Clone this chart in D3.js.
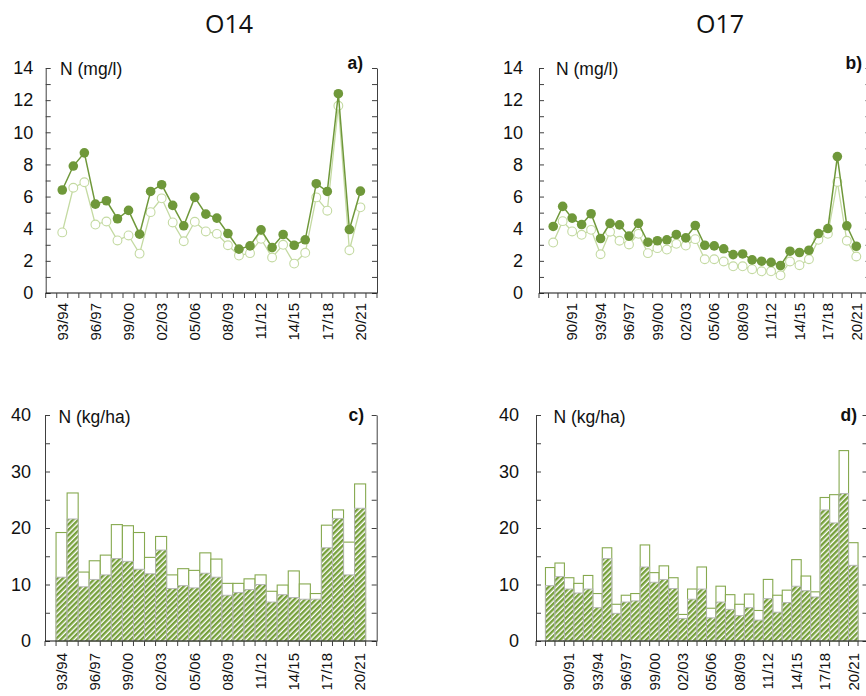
<!DOCTYPE html>
<html><head><meta charset="utf-8">
<script src="https://cdn.jsdelivr.net/npm/d3@7"></script>
<style>body{margin:0;background:#fff}</style>
</head><body>
<svg id="chart" width="866" height="696"></svg>
<script>
// ---------- categories ----------
const o14Years = ["93/94","94/95","95/96","96/97","97/98","98/99","99/00","00/01","01/02","02/03","03/04","04/05","05/06","06/07","07/08","08/09","09/10","10/11","11/12","12/13","13/14","14/15","15/16","16/17","17/18","18/19","19/20","20/21"];
const o14Bands = ["92/93", ...o14Years, "21/22"];
const o17Years = ["88/89","89/90","90/91","91/92","92/93", ...o14Years];
const o17Bands = ["87/88", ...o17Years, "21/22"];
const o14TickLabels = ["93/94","96/97","99/00","02/03","05/06","08/09","11/12","14/15","17/18","20/21"];
const o17TickLabels = ["90/91","93/94","96/97","99/00","02/03","05/06","08/09","11/12","14/15","17/18","20/21"];
const concTicks = [0,2,4,6,8,10,12,14];
const concMinor = [1,3,5,7,9,11,13];
const loadTicks = [0,10,20,30,40];
const loadMinor = [5,15,25,35];

// ---------- series: concentration N (mg/l) ----------
const o14ConcFilled = [6.41,7.90,8.72,5.53,5.74,4.62,5.14,3.66,6.32,6.74,5.45,4.18,5.95,4.91,4.66,3.70,2.73,2.93,3.93,2.83,3.64,2.97,3.31,6.80,6.32,12.40,3.95,6.34];
const o14ConcOpen   = [3.77,6.55,6.89,4.26,4.45,3.27,3.58,2.45,5.03,5.89,4.39,3.22,4.43,3.83,3.68,2.97,2.33,2.48,3.37,2.21,3.00,1.83,2.50,5.95,5.12,11.65,2.66,5.33];
const o17ConcFilled = [4.14,5.39,4.66,4.26,4.93,3.39,4.33,4.24,3.54,4.33,3.16,3.25,3.31,3.64,3.43,4.20,2.97,2.93,2.75,2.39,2.43,2.06,1.98,1.91,1.71,2.60,2.52,2.66,3.70,4.01,8.49,4.18,2.91];
const o17ConcOpen   = [3.14,4.47,3.83,3.62,3.93,2.41,3.81,3.25,3.02,3.68,2.48,2.79,2.70,3.06,2.95,3.35,2.10,2.10,1.96,1.66,1.66,1.48,1.35,1.35,1.10,1.96,1.73,2.10,3.31,3.68,6.91,3.25,2.27];

// ---------- series: load N (kg/ha) ----------
const o14LoadTotal   = [19.2,26.2,12.2,14.2,15.2,20.6,20.4,19.2,14.8,18.5,11.7,12.8,12.5,15.6,14.5,10.2,10.2,11.0,11.7,8.8,9.9,12.4,10.1,8.4,20.5,23.2,17.5,27.8];
const o14LoadHatched = [11.3,21.6,9.6,10.9,11.7,14.6,14.1,12.7,11.9,16.1,9.3,9.8,9.4,12.0,11.3,8.1,8.6,9.1,10.0,6.9,8.2,7.7,7.4,7.4,16.5,21.7,11.7,23.5];
const o17LoadTotal   = [13.0,13.8,11.2,10.2,11.6,8.4,16.5,6.5,8.1,8.4,17.0,12.1,13.3,11.2,4.7,9.2,13.1,5.8,9.7,8.2,6.5,8.3,5.4,10.9,8.1,9.0,14.4,11.5,8.7,25.4,25.9,33.7,17.4];
const o17LoadHatched = [9.8,11.4,9.2,8.5,9.2,5.9,14.6,4.9,6.9,7.1,13.1,10.4,10.9,9.3,4.0,7.4,9.2,4.1,6.9,5.6,4.5,5.9,3.7,7.5,5.1,6.8,9.7,8.9,7.8,23.2,20.9,26.1,13.4];

// ---------- styling ----------
const DARK = "#6f983a", LIGHT = "#c4daa2", BAROUT = "#86a94f", HATCH = "#76a03b";
const AXIS = "#404040";
const FONT = "'Liberation Sans', Arial, sans-serif";

const svg = d3.select("#chart");
svg.append("rect").attr("width",866).attr("height",696).attr("fill","#fff");

const defs = svg.append("defs");
const pat = defs.append("pattern").attr("id","hatch").attr("patternUnits","userSpaceOnUse")
  .attr("width",3.8).attr("height",3.8).attr("patternTransform","rotate(45)");
pat.append("rect").attr("width",3.8).attr("height",3.8).attr("fill","#fff");
pat.append("rect").attr("width",2.4).attr("height",3.8).attr("fill",HATCH);

// titles
svg.append("text").attr("x",229).attr("y",33).attr("text-anchor","middle")
  .style("font-family","'Open Sans', sans-serif").style("font-size","25px").attr("fill","#111").text("O14");
svg.append("text").attr("x",720).attr("y",33).attr("text-anchor","middle")
  .style("font-family","'Open Sans', sans-serif").style("font-size","25px").attr("fill","#111").text("O17");

function frame(g, x, y, bands, tickLabels, ticks, minor, labelPad, xLabelGap) {
  const [x0, x1] = x.range();
  const [y0, y1] = y.range();
  const la = g.append("g").attr("transform",`translate(${x0},0)`)
    .call(d3.axisLeft(y).tickValues(ticks).tickSizeInner(-5).tickSizeOuter(0).tickPadding(labelPad));
  la.select(".domain").attr("stroke",AXIS);
  la.selectAll(".tick line").attr("stroke",AXIS);
  la.selectAll(".tick text").style("font-family",FONT).style("font-size","18px").attr("fill","#111");
  const lm = g.append("g").attr("transform",`translate(${x0},0)`)
    .call(d3.axisLeft(y).tickValues(minor).tickSizeInner(-5).tickSizeOuter(0).tickFormat(""));
  lm.select(".domain").remove(); lm.selectAll(".tick line").attr("stroke",AXIS);
  const ra = g.append("g").attr("transform",`translate(${x1},0)`)
    .call(d3.axisRight(y).tickValues(ticks.concat(minor)).tickSizeInner(-5).tickSizeOuter(0).tickFormat(""));
  ra.select(".domain").attr("stroke",AXIS); ra.selectAll(".tick line").attr("stroke",AXIS);
  g.append("line").attr("x1",x0).attr("x2",x1).attr("y1",y0).attr("y2",y0).attr("stroke","#111").attr("stroke-width",1.2);
  const edges = bands.map(b => x(b)).concat([x1]);
  g.selectAll(".btick").data(edges).join("line").attr("class","btick")
    .attr("x1",d=>d).attr("x2",d=>d).attr("y1",y0).attr("y2",y0+5).attr("stroke",AXIS);
  g.selectAll(".xl").data(tickLabels).join("text").attr("class","xl")
    .attr("transform",d=>`translate(${x(d)+x.bandwidth()/2},${y0+xLabelGap}) rotate(-90)`)
    .attr("text-anchor","end").attr("dy","0.35em")
    .style("font-family",FONT).style("font-size","15px").attr("fill","#111").text(d=>d);
}

function linePanel(cfg) {
  const g = svg.append("g");
  const x = d3.scaleBand().domain(cfg.bands).range(cfg.xr).padding(0);
  const y = d3.scaleLinear().domain([0,14]).range([293,68]);
  frame(g, x, y, cfg.bands, cfg.tickLabels, concTicks, concMinor, cfg.labelPad, 10);
  const cx = d => x(d) + x.bandwidth()/2;
  const openData = cfg.years.map((yr,i)=>({yr, v:cfg.open[i]}));
  const fillData = cfg.years.map((yr,i)=>({yr, v:cfg.filled[i]}));
  const line = d3.line().x(d=>cx(d.yr)).y(d=>y(d.v));
  g.append("path").datum(openData).attr("d",line).attr("fill","none").attr("stroke",LIGHT).attr("stroke-width",1.3);
  g.selectAll(".op").data(openData).join("circle").attr("class","op")
    .attr("cx",d=>cx(d.yr)).attr("cy",d=>y(d.v)).attr("r",4.4)
    .attr("fill","#fff").attr("stroke",LIGHT).attr("stroke-width",1.1);
  g.append("path").datum(fillData).attr("d",line).attr("fill","none").attr("stroke",DARK).attr("stroke-width",1.5);
  g.selectAll(".fp").data(fillData).join("circle").attr("class","fp")
    .attr("cx",d=>cx(d.yr)).attr("cy",d=>y(d.v)).attr("r",4.8).attr("fill",DARK);
  g.append("text").attr("x",cfg.nx).attr("y",75).style("font-family",FONT).style("font-size","17.5px").attr("fill","#111").text("N (mg/l)");
  g.append("text").attr("x",cfg.tagX).attr("y",69).attr("text-anchor","end").style("font-family",FONT)
    .style("font-size","17.5px").style("font-weight","bold").attr("fill","#111").text(cfg.tag);
}

function barPanel(cfg) {
  const g = svg.append("g");
  const x = d3.scaleBand().domain(cfg.bands).range(cfg.xr).padding(0);
  const y = d3.scaleLinear().domain([0,40]).range([641,415]);
  const data = cfg.years.map((yr,i)=>({yr, t:cfg.total[i], h:cfg.hatched[i]}));
  g.selectAll(".tb").data(data).join("rect").attr("class","tb")
    .attr("x",d=>x(d.yr)).attr("width",x.bandwidth()).attr("y",d=>y(d.t)).attr("height",d=>y(0)-y(d.t))
    .attr("fill","#fff").attr("stroke",BAROUT).attr("stroke-width",1.1);
  g.selectAll(".hb").data(data).join("rect").attr("class","hb")
    .attr("x",d=>x(d.yr)).attr("width",x.bandwidth()).attr("y",d=>y(d.h)).attr("height",d=>y(0)-y(d.h))
    .attr("fill","url(#hatch)").attr("stroke","#b4b4b4").attr("stroke-width",0.9);
  frame(g, x, y, cfg.bands, cfg.tickLabels, loadTicks, loadMinor, cfg.labelPad, 12);
  g.append("text").attr("x",cfg.nx).attr("y",422.5).style("font-family",FONT).style("font-size","17.5px").attr("fill","#111").text("N (kg/ha)");
  g.append("text").attr("x",cfg.tagX).attr("y",421).attr("text-anchor","end").style("font-family",FONT)
    .style("font-size","17.5px").style("font-weight","bold").attr("fill","#111").text(cfg.tag);
}

linePanel({bands:o14Bands, years:o14Years, tickLabels:o14TickLabels, xr:[45.7,377], filled:o14ConcFilled, open:o14ConcOpen, labelPad:12.5, nx:60, tagX:363, tag:"a)"});
linePanel({bands:o17Bands, years:o17Years, tickLabels:o17TickLabels, xr:[539,870.5], filled:o17ConcFilled, open:o17ConcOpen, labelPad:16, nx:556, tagX:862, tag:"b)"});
barPanel({bands:o14Bands, years:o14Years, tickLabels:o14TickLabels, xr:[45,376.7], total:o14LoadTotal, hatched:o14LoadHatched, labelPad:14, nx:58.5, tagX:364, tag:"c)"});
barPanel({bands:o17Bands, years:o17Years, tickLabels:o17TickLabels, xr:[536,867.5], total:o17LoadTotal, hatched:o17LoadHatched, labelPad:17, nx:553.5, tagX:857, tag:"d)"});
</script>
</body></html>
